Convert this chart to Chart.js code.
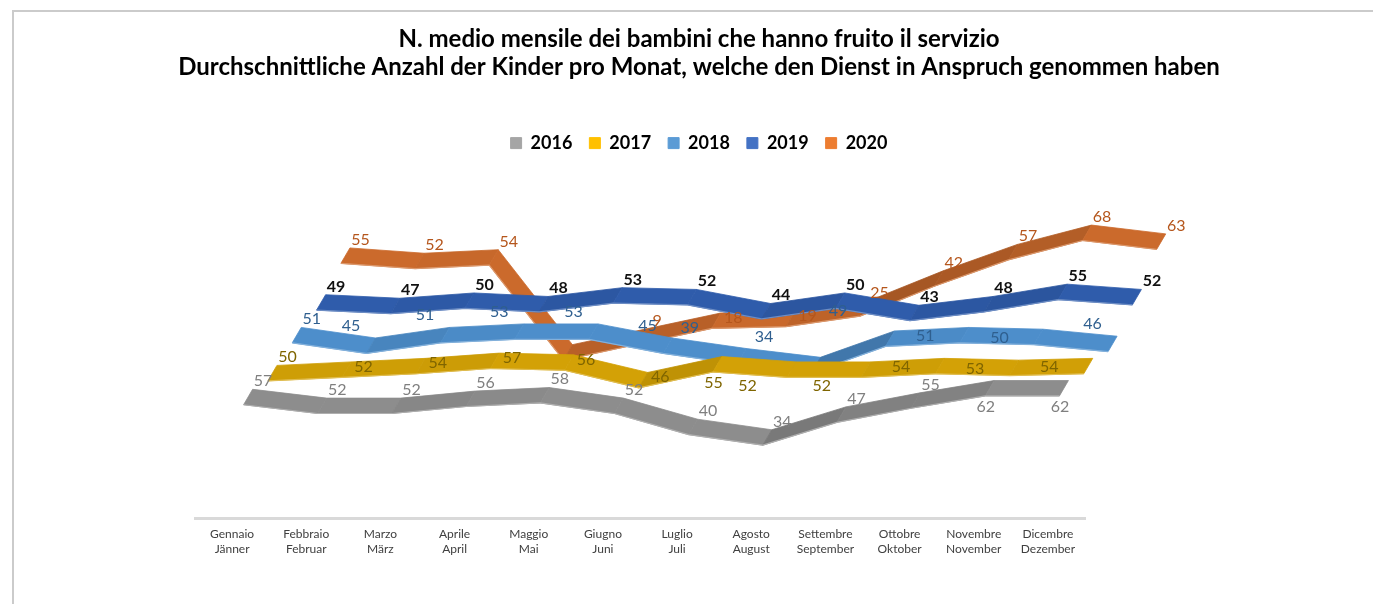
<!DOCTYPE html>
<html>
<head>
<meta charset="utf-8">
<title>Bambini / Kinder</title>
<script src="https://cdn.jsdelivr.net/npm/chart.js@4.4.0/dist/chart.umd.min.js"></script>
<style>
  html, body { margin: 0; padding: 0; background: #fff; }
  #wrap { position: relative; width: 1373px; height: 604px; overflow: hidden; }
  #frame { position: absolute; left: 12px; top: 10px; right: -4px; bottom: -4px; border-top: 2px solid #cbcbcb; border-left: 2px solid #cbcbcb; }
  #chart { position: absolute; left: 0; top: 0; }
</style>
</head>
<body>
<div id="wrap">
  <div id="frame"></div>
  <canvas id="chart" width="1373" height="604"></canvas>
</div>
<script>
var MONTHS = [
  ["Gennaio", "Jänner"], ["Febbraio", "Februar"], ["Marzo", "März"], ["Aprile", "April"],
  ["Maggio", "Mai"], ["Giugno", "Juni"], ["Luglio", "Juli"], ["Agosto", "August"],
  ["Settembre", "September"], ["Ottobre", "Oktober"], ["Novembre", "November"], ["Dicembre", "Dezember"]
];
var YEARS = ["2016", "2017", "2018", "2019", "2020"];

var VALUES_2016 = [57, 52, 52, 56, 58, 52, 40, 34, 47, 55, 62, 62];
var VALUES_2017 = [50, 52, 54, 57, 56, 46, 55, 52, 52, 54, 53, 54];
var VALUES_2018 = [51, 45, 51, 53, 53, 45, 39, 34, 49, 51, 50, 46];
var VALUES_2019 = [49, 47, 50, 48, 53, 52, 44, 50, 43, 48, 55, 52];
var VALUES_2020 = [55, 52, 54, 0, 9, 18, 19, 25, 42, 57, 68, 63];

// where each value label sits: a = above, o = on the ribbon, b = below,
// bl = below left, l = left on the ribbon, al / fl = above left, n = none
var LABEL_POS_2016 = ["a", "a", "a", "a", "a", "a", "a", "a", "a", "a", "b", "b"];
var LABEL_POS_2017 = ["a", "o", "o", "o", "o", "o", "b", "bl", "bl", "l", "l", "l"];
var LABEL_POS_2018 = ["a", "al", "al", "al", "al", "al", "fl", "fl", "fl", "l", "l", "al"];
var LABEL_POS_2019 = ["a", "a", "a", "a", "a", "a", "a", "a", "a", "a", "a", "a"];
var LABEL_POS_2020 = ["a", "a", "a", "n", "a", "o", "o", "a", "a", "a", "a", "a"];

var ALL_VALUES = [VALUES_2016, VALUES_2017, VALUES_2018, VALUES_2019, VALUES_2020];
var ALL_LABEL_POS = [LABEL_POS_2016, LABEL_POS_2017, LABEL_POS_2018, LABEL_POS_2019, LABEL_POS_2020];

var LEGEND_COLORS = ["#a5a5a5", "#ffc000", "#5b9bd5", "#4472c4", "#ed7d31"];
var RIBBON_COLORS = ["#8d8d8d", "#d3a106", "#4d8ecb", "#2f5cab", "#cb6a2c"];
var LABEL_COLORS = ["#7f7f7f", "#7f6500", "#2f5f8f", "#111111", "#b5561c"];

var LABEL_OFFSETS = {
  a: [15, -16], o: [17, -3], b: [-4, 19], bl: [-44, 16],
  l: [-39, 1], al: [-20, -20], fl: [-52, -28]
};

// fake depth: every year sits a bit higher and further right than the one before
var FRONT_SHIFT = 0.216;  // categories
var ROW_SHIFT = 0.328;    // categories
var Y_FLOOR = -11.8;      // value units
var ROW_RISE = 20.6;      // value units
var Y_SPAN = 202.4;       // value units over the plot height
var HALF_DX = 4.5, HALF_DY = 7.7;

function shade(hex, f) {
  var n = parseInt(hex.slice(1), 16);
  var c = [n >> 16, (n >> 8) & 255, n & 255];
  var t = f < 0 ? 0 : 255, p = Math.abs(f);
  c = c.map(function (v) { return Math.round(v + (t - v) * p); });
  return "rgb(" + c.join(",") + ")";
}

function drawRibbon(ctx, pts, color) {
  for (var j = 0; j < pts.length - 1; j++) {
    var a = pts[j], b = pts[j + 1];
    var rise = (a.y - b.y) / (b.x - a.x);
    var f = rise > 0 ? -Math.min(0.28, rise * 0.45) : 0;
    var fill = shade(color, f);
    ctx.beginPath();
    ctx.moveTo(a.x - HALF_DX, a.y + HALF_DY);
    ctx.lineTo(b.x - HALF_DX, b.y + HALF_DY);
    ctx.lineTo(b.x + HALF_DX, b.y - HALF_DY);
    ctx.lineTo(a.x + HALF_DX, a.y - HALF_DY);
    ctx.closePath();
    ctx.fillStyle = fill;
    ctx.strokeStyle = fill;
    ctx.lineWidth = 0.8;
    ctx.fill();
    ctx.stroke();
  }
  // pale rim on the near edge
  ctx.beginPath();
  ctx.moveTo(pts[0].x - HALF_DX, pts[0].y + HALF_DY);
  for (var i = 1; i < pts.length; i++) ctx.lineTo(pts[i].x - HALF_DX, pts[i].y + HALF_DY);
  ctx.strokeStyle = shade(color, 0.3);
  ctx.lineWidth = 1.2;
  ctx.stroke();
}

var ribbons3d = {
  id: "ribbons3d",
  afterDatasetsDraw: function (chart) {
    var ctx = chart.ctx;
    var n = chart.data.datasets.length;
    ctx.save();
    ctx.lineJoin = "round";
    // back rows first so the front ones cover them
    for (var k = n - 1; k >= 0; k--) {
      drawRibbon(ctx, chart.getDatasetMeta(k).data, RIBBON_COLORS[k]);
    }
    ctx.textAlign = "center";
    ctx.textBaseline = "middle";
    for (k = n - 1; k >= 0; k--) {
      var pts = chart.getDatasetMeta(k).data;
      ctx.font = (k === 3 ? "bold " : "") + "16px Lato";
      ctx.fillStyle = LABEL_COLORS[k];
      for (var j = 0; j < pts.length; j++) {
        var off = LABEL_OFFSETS[ALL_LABEL_POS[k][j]];
        if (!off) continue;
        ctx.fillText(String(ALL_VALUES[k][j]), pts[j].x + off[0], pts[j].y + off[1]);
      }
    }
    ctx.restore();
  }
};

var datasets = [];
var scales = {
  x: {
    type: "category",
    offset: true,
    grid: { display: false },
    border: { display: true, color: "#d9d9d9", width: 3 },
    ticks: { color: "#404040", font: { size: 12, lineHeight: 1.25 }, padding: 1, maxRotation: 0, autoSkip: false }
  },
  padLeft: {
    type: "linear", position: "left",
    grid: { display: false }, border: { display: false }, ticks: { display: false },
    afterFit: function (s) { s.width = 170; }
  },
  padRight: {
    type: "linear", position: "right",
    grid: { display: false }, border: { display: false }, ticks: { display: false },
    afterFit: function (s) { s.width = 288; }
  }
};

YEARS.forEach(function (year, k) {
  var shift = FRONT_SHIFT + ROW_SHIFT * k;
  var yMin = Y_FLOOR - ROW_RISE * k;
  scales["x" + year] = { type: "linear", display: false, min: -0.5 - shift, max: 11.5 - shift };
  scales["y" + year] = { type: "linear", display: false, min: yMin, max: yMin + Y_SPAN };
  datasets.push({
    label: year,
    data: ALL_VALUES[k].map(function (v, i) { return { x: i, y: v }; }),
    xAxisID: "x" + year,
    yAxisID: "y" + year,
    backgroundColor: LEGEND_COLORS[k],
    borderColor: LEGEND_COLORS[k],
    borderWidth: 1,
    showLine: false,
    pointRadius: 0,
    clip: false
  });
});

Chart.defaults.font.family = "Lato";

new Chart(document.getElementById("chart"), {
  type: "line",
  data: { labels: MONTHS, datasets: datasets },
  options: {
    responsive: false,
    animation: false,
    layout: { padding: { left: 25, right: 0, top: 0, bottom: 46 } },
    scales: scales,
    plugins: {
      title: {
        display: true,
        text: [
          "N. medio mensile dei bambini che hanno fruito il servizio",
          "Durchschnittliche Anzahl der Kinder pro Monat, welche den Dienst in Anspruch genommen haben"
        ],
        color: "#000",
        font: { size: 24, weight: "bold", lineHeight: 1.2 },
        padding: { top: 24.5, bottom: 35 }
      },
      legend: {
        display: true,
        labels: {
          boxWidth: 11, boxHeight: 11, padding: 17, color: "#000",
          font: { size: 18, weight: "bold" }
        }
      },
      tooltip: { enabled: false }
    }
  },
  plugins: [ribbons3d]
});
</script>
</body>
</html>
